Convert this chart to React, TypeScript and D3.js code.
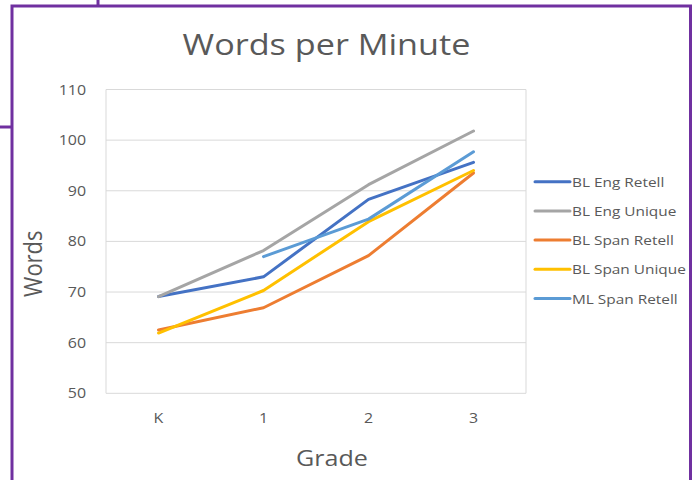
import { useMemo } from 'react'
import * as d3 from 'd3'

const W = 695
const H = 480

const grades = ['K', '1', '2', '3']
const yTicks = [50, 60, 70, 80, 90, 100, 110]

const blEngRetell = [69.1, 73.0, 88.3, 95.6]
const blEngUnique = [69.1, 78.2, 91.2, 101.8]
const blSpanRetell = [62.5, 66.9, 77.2, 93.5]
const blSpanUnique = [61.9, 70.3, 83.9, 94.0]
const mlSpanRetell = [null, 77.0, 84.4, 97.7]

const seriesNames = ['BL Eng Retell', 'BL Eng Unique', 'BL Span Retell', 'BL Span Unique', 'ML Span Retell']
const seriesColors = ['#4472C4', '#A5A5A5', '#ED7D31', '#FFC000', '#5B9BD5']
const seriesValues = [blEngRetell, blEngUnique, blSpanRetell, blSpanUnique, mlSpanRetell]

const FONT = '"Open Sans", "Noto Sans", sans-serif'
const TEXT = '#595959'
// the source picture is stretched a bit horizontally
const SX = 1.14

const Txt = ({ x, y, size, anchor = 'start', rotate = 0, children }: any) => (
  <text
    transform={`translate(${x},${y}) scale(${SX},1) rotate(${rotate})`}
    textAnchor={anchor}
    fontFamily={FONT}
    fontSize={size}
    fill={TEXT}
  >
    {children}
  </text>
)

export default function App() {
  const x = useMemo(
    () => d3.scalePoint<string>().domain(grades).range([106, 526]).padding(0.5),
    []
  )
  const y = useMemo(() => d3.scaleLinear().domain([50, 110]).range([393.3, 89.5]), [])

  const line = d3
    .line<number | null>()
    .defined((d) => d != null)
    .x((_, i) => x(grades[i]) as number)
    .y((d) => y(d as number))

  return (
    <svg
      width={W}
      height={H}
      style={{ position: 'absolute', left: 0, top: 0, background: '#fff' }}
    >
      {/* purple frame */}
      <g stroke="#7030A0" strokeWidth={3} fill="none">
        <path d="M12,480 L12,6 L690.5,6 L690.5,480" />
        <line x1={98} y1={0} x2={98} y2={6} />
        <line x1={0} y1={127} x2={12} y2={127} />
      </g>

      <Txt x={326.5} y={55} size={30} anchor="middle">Words per Minute</Txt>

      {/* grid */}
      <g stroke="#D9D9D9" strokeWidth={1}>
        {yTicks.map((t) => (
          <line key={t} x1={106} x2={526} y1={y(t)} y2={y(t)} />
        ))}
        <line x1={106} x2={106} y1={y(110)} y2={y(50)} />
        <line x1={526} x2={526} y1={y(110)} y2={y(50)} />
      </g>

      {yTicks.map((t) => (
        <Txt key={t} x={86} y={y(t) + 5} size={14} anchor="end">{t}</Txt>
      ))}
      {grades.map((g) => (
        <Txt key={g} x={x(g)} y={423} size={14} anchor="middle">{g}</Txt>
      ))}

      <Txt x={332} y={466} size={22} anchor="middle">Grade</Txt>
      <Txt x={41.5} y={263.7} size={22} anchor="middle" rotate={-90}>Words</Txt>

      {seriesValues.map((vals, i) => (
        <path
          key={seriesNames[i]}
          d={line(vals) || ''}
          fill="none"
          stroke={seriesColors[i]}
          strokeWidth={3}
          strokeLinejoin="round"
          strokeLinecap="round"
        />
      ))}

      {seriesNames.map((name, i) => {
        const ly = 181.7 + i * 29.2
        return (
          <g key={name}>
            <line x1={535} x2={570} y1={ly} y2={ly} stroke={seriesColors[i]} strokeWidth={3} strokeLinecap="round" />
            <Txt x={572} y={ly + 5} size={13.5}>{name}</Txt>
          </g>
        )
      })}
    </svg>
  )
}
